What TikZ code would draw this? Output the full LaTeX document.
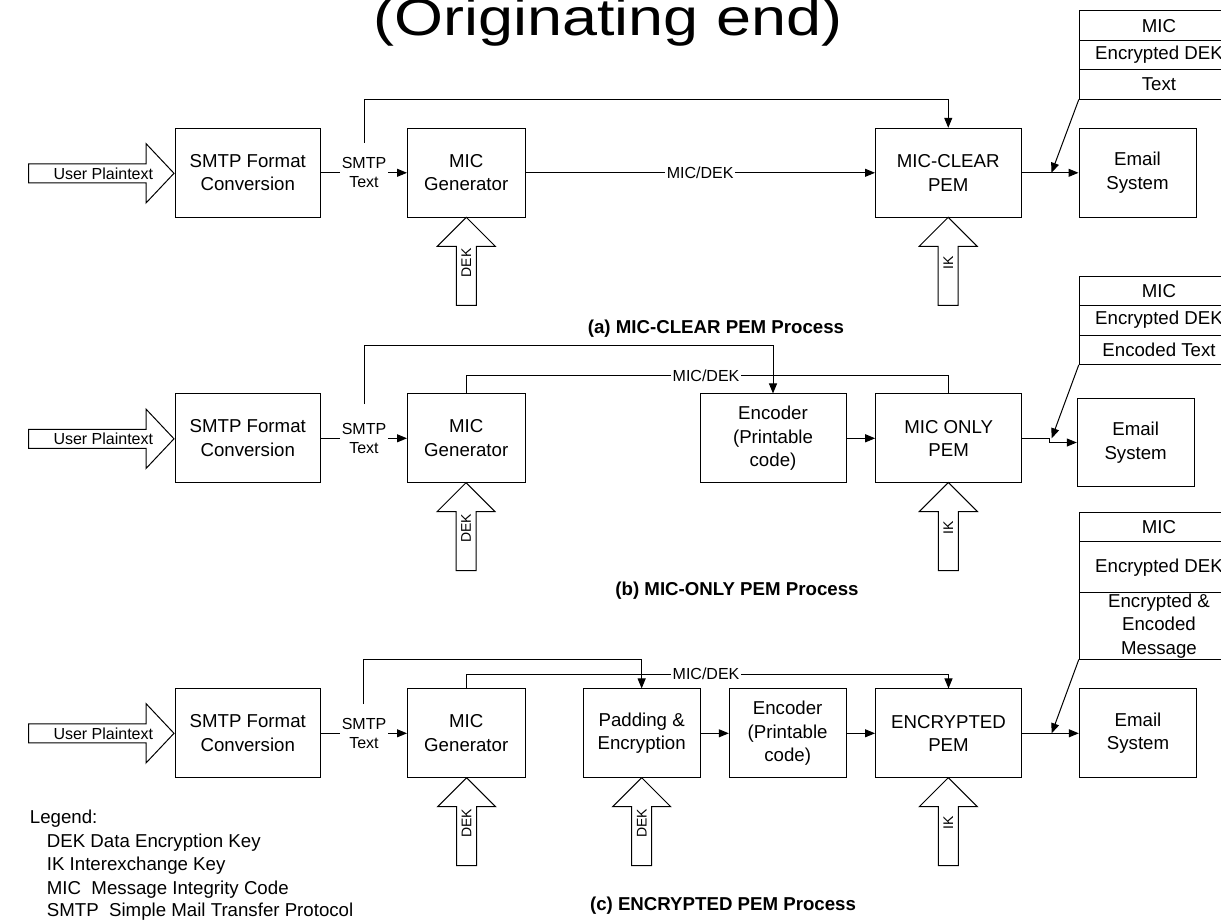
\documentclass[tikz,border=0pt]{standalone}
\usepackage{fontspec}
\setmainfont{Liberation Sans}
\usetikzlibrary{arrows.meta}

\tikzset{
  box/.style={draw, line width=1pt, align=center, inner sep=0pt,
    font=\fontsize{18.67}{23.5}\selectfont},
  cell/.style={box, minimum width=159.4pt},
  arr/.style={line width=1pt, -{Triangle[length=10pt,width=8pt]}},
  wire/.style={line width=1pt},
  lbl/.style={fill=white, inner sep=1.5pt, align=center, font=\fontsize{16}{19}\selectfont},
  keylbl/.style={inner sep=0pt, font=\fontsize{14}{16}\selectfont},
  blockarr/.style={draw, line width=1pt, fill=white},
  capt/.style={anchor=base, font=\bfseries\fontsize{18.67}{22}\selectfont},
  legendtxt/.style={anchor=west, inner sep=0pt, font=\fontsize{18.67}{22}\selectfont},
}

% key input arrow pointing up: name, x, y of tip, label
\newcommand\keyarrow[4]{%
  \draw[blockarr] (#2,#3) -- ++(29,29) -- ++(-19,0) -- ++(0,59) -- ++(-20,0)
    -- ++(0,-59) -- ++(-19,0) -- cycle;
  \node[keylbl, rotate=90] (#1) at (#2,#3+45.5) {#4};}

% plaintext input arrow pointing right: name, y of tip
\newcommand\plainarrow[2]{%
  \draw[blockarr] (174,#2) -- (146,#2-29.7) -- (146,#2-9.5) -- (28.5,#2-9.5)
    -- (28.5,#2+9.5) -- (146,#2+9.5) -- (146,#2+29.7) -- cycle;
  \node[inner sep=0pt, font=\fontsize{16}{19}\selectfont] (#1) at (103.3,#2) {User Plaintext};}

\begin{document}
\begin{tikzpicture}[x=1pt, y=-1pt]
\useasboundingbox (0,0) rectangle (1221,921);
\clip (0,0) rectangle (1221,921);

\node[anchor=base, inner sep=0pt, xscale=1.21, font=\fontsize{52}{60}\selectfont] (title) at (608,35) {(Originating end)};

% ---------------- (a) MIC-CLEAR ----------------
\plainarrow{upa}{173.3}
\node[box, minimum width=145.5pt, minimum height=89pt] (a1) at (247.75,172.8) {SMTP Format\\Conversion};
\node[box, minimum width=117.5pt, minimum height=89pt] (a2) at (466.25,172.8) {MIC\\Generator};
\node[box, minimum width=145.5pt, minimum height=89pt] (a3) at (948.25,172.8) {MIC-CLEAR\\PEM};
\node[box, minimum width=117pt, minimum height=89pt] (a4) at (1137.5,172.8) {Email\\System};
\node[cell, minimum height=30pt] (ta1) at (1159,25.7) {MIC};
\node[cell, minimum height=28.6pt] (ta2) at (1159,55) {Encrypted DEK};
\node[cell, minimum height=29.7pt] (ta3) at (1159,84.15) {Text};

\draw[arr] (a1.east) -- (a2.west) node[lbl, pos=0.5] (sa) {SMTP\\Text};
\coordinate (sa-up) at (364,142.8);
\coordinate (sa-turn) at (364,99.3);
\draw[arr] (sa-up) -- (sa-turn) -| (a3.north);
\draw[arr] (a2.east) -- (a3.west) node[lbl, pos=0.5] (ma) {MIC/DEK};
\draw[arr] (a3.east) -- (a4.west);
\coordinate (ja) at (1051.5,172.8);
\draw[arr] (ta3.south west) -- (ja);

\keyarrow{ka1}{466.3}{217.3}{DEK}
\keyarrow{ka2}{948.2}{217.3}{IK}
\node[capt] (capa) at (716,333) {(a) MIC-CLEAR PEM Process};

% ---------------- (b) MIC-ONLY ----------------
\plainarrow{upb}{438.8}
\node[box, minimum width=145.5pt, minimum height=88.7pt] (b1) at (247.75,438.3) {SMTP Format\\Conversion};
\node[box, minimum width=117.5pt, minimum height=88.7pt] (b2) at (466.25,438.3) {MIC\\Generator};
\node[box, minimum width=146pt, minimum height=88.7pt] (b4) at (773,438.3) {Encoder\\(Printable\\code)};
\node[box, minimum width=146pt, minimum height=88.7pt] (b5) at (948.7,438.3) {MIC ONLY\\PEM};
\node[box, minimum width=116.7pt, minimum height=88.4pt] (b6) at (1135.65,442.5) {Email\\System};
\node[cell, minimum height=28.3pt] (tb1) at (1159,290.85) {MIC};
\node[cell, minimum height=30pt] (tb2) at (1159,320) {Encrypted DEK};
\node[cell, minimum height=29.3pt] (tb3) at (1159,349.65) {Encoded Text};

\draw[arr] (b1.east) -- (b2.west) node[lbl, pos=0.5] (sb) {SMTP\\Text};
\coordinate (sb-up) at (364.3,404);
\coordinate (sb-turn) at (364.3,345.7);
\draw[arr] (sb-up) -- (sb-turn) -| (b4.north);
\coordinate (mb-turn) at (466.25,375.7);
\draw[wire] (b2.north) -- (mb-turn) -| (b5.north);
\node[lbl] (mb) at (706,375.7) {MIC/DEK};
\draw[arr] (b4.east) -- (b5.west);
\draw[arr] (b5.east) -- ++(27.6,0) |- (b6.west);
\coordinate (jb) at (1051.7,438.3);
\draw[arr] (tb3.south west) -- (jb);

\keyarrow{kb1}{466}{482.7}{DEK}
\keyarrow{kb2}{948.3}{482.5}{IK}
\node[capt] (capb) at (737,595) {(b) MIC-ONLY PEM Process};

% ---------------- (c) ENCRYPTED ----------------
\plainarrow{upc}{733.3}
\node[box, minimum width=145.5pt, minimum height=88.7pt] (c1) at (247.75,733.3) {SMTP Format\\Conversion};
\node[box, minimum width=117.5pt, minimum height=88.7pt] (c2) at (466.25,733.3) {MIC\\Generator};
\node[box, minimum width=116.7pt, minimum height=88.7pt] (c3) at (641.65,733.3) {Padding \&\\Encryption};
\node[box, minimum width=116.7pt, minimum height=88.7pt] (c4) at (787.65,733.3) {Encoder\\(Printable\\code)};
\node[box, minimum width=146pt, minimum height=88.7pt] (c5) at (948.5,733.3) {ENCRYPTED\\PEM};
\node[box, minimum width=117.4pt, minimum height=88.7pt] (c6) at (1138,733.3) {Email\\System};
\node[cell, minimum height=29pt] (tc1) at (1159,527.2) {MIC};
\node[cell, minimum height=51pt] (tc2) at (1159,567.2) {Encrypted DEK};
\node[cell, minimum height=66.3pt] (tc3) at (1159,625.85) {Encrypted \&\\Encoded\\Message};

\draw[arr] (c1.east) -- (c2.west) node[lbl, pos=0.5] (sc) {SMTP\\Text};
\coordinate (sc-up) at (363.8,704);
\coordinate (sc-turn) at (363.8,659.3);
\draw[arr] (sc-up) -- (sc-turn) -| (c3.north);
\coordinate (mc-turn) at (466.25,674);
\draw[arr] (c2.north) -- (mc-turn) -| (c5.north);
\node[lbl] (mc) at (706,674) {MIC/DEK};
\draw[arr] (c3.east) -- (c4.west);
\draw[arr] (c4.east) -- (c5.west);
\draw[arr] (c5.east) -- (c6.west);
\coordinate (jc) at (1051.7,733.3);
\draw[arr] (tc3.south west) -- (jc);

\keyarrow{kc1}{466.6}{777.7}{DEK}
\keyarrow{kc2}{641.7}{777.7}{DEK}
\keyarrow{kc3}{948.3}{777.7}{IK}
\node[capt] (capc) at (723,910) {(c) ENCRYPTED PEM Process};

% ---------------- legend ----------------
\node[legendtxt] (lg0) at (29.7,818.3) {Legend:};
\node[legendtxt] (lg1) at (46.7,842.3) {DEK Data Encryption Key};
\node[legendtxt] (lg2) at (46.7,865.7) {IK Interexchange Key};
\node[legendtxt] (lg3) at (46.7,889.3) {MIC\ \ Message Integrity Code};
\node[legendtxt] (lg4) at (46.7,911.7) {SMTP\ \ Simple Mail Transfer Protocol};
\end{tikzpicture}
\end{document}
